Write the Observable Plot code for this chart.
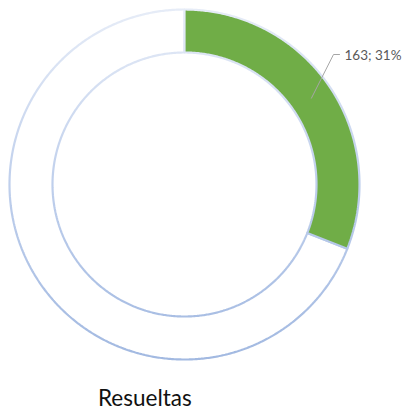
<!DOCTYPE html>
<html>
<head>
<meta charset="utf-8">
<script src="https://cdn.jsdelivr.net/npm/d3@7"></script>
<script src="https://cdn.jsdelivr.net/npm/@observablehq/plot@0.6"></script>
<style>
  html, body { margin: 0; padding: 0; background: #fff; }
  #wrap { position: relative; width: 406px; height: 414px; overflow: hidden; }
  #title { position: absolute; left: 98px; top: 387px; font-family: Lato, "Open Sans", sans-serif; font-size: 22.5px; line-height: 1; color: #111; white-space: nowrap; }
</style>
</head>
<body>
<div id="wrap"><div id="chart"></div><div id="title"></div></div>
<script>
// Data
const categories = ["Resueltas", "Resto"];
const values = [163, 363];
const sliceColors = ["#70AD47", "#FFFFFF"];
const labels = ["163; 31%", ""];
const chartTitle = "Resueltas";

// Geometry (layout)
const innerRatio = 132 / 175;
const W = 406, H = 370;

const pie = d3.pie().sort(null).value(d => d)(values);

// Build slice outlines in unit coordinates (angle clockwise from top)
const pts = (a, r) => ({ x: r * Math.sin(a), y: r * Math.cos(a) });
const outline = [];
pie.forEach((p, i) => {
  const n = Math.max(4, Math.ceil((p.endAngle - p.startAngle) / (Math.PI / 360)));
  const ring = [];
  for (let k = 0; k <= n; k++) ring.push(pts(p.startAngle + (p.endAngle - p.startAngle) * k / n, 1));
  for (let k = n; k >= 0; k--) ring.push(pts(p.startAngle + (p.endAngle - p.startAngle) * k / n, innerRatio));
  ring.push(ring[0]);
  ring.forEach(q => outline.push({ ...q, cat: categories[i], order: i }));
});
const drawOrder = [1, 0];

// Label leader for the first slice
const p0 = pie[0];
const mid = (p0.startAngle + p0.endAngle) / 2;
const midR = (1 + innerRatio) / 2;
const start = pts(mid, midR);
const elbow = { x: 149 / 175, y: 130 / 175 };
const end = { x: elbow.x + 6 / 175, y: elbow.y };
const leader = [start, elbow, end];

const marks = drawOrder.map(i => Plot.line(outline.filter(d => d.order === i), {
  x: "x", y: "y", fill: sliceColors[i], stroke: "url(#ringGrad)", strokeWidth: 2.2, strokeLinejoin: "miter", curve: "linear"
}));
marks.push(Plot.line(leader, { x: "x", y: "y", stroke: "#A6A6A6", strokeWidth: 1 }));
marks.push(Plot.text([{ x: end.x, y: end.y, t: labels[0] }], {
  x: "x", y: "y", text: "t", textAnchor: "start", dx: 5, dy: 1, fill: "#595959",
  fontSize: 13.5, fontFamily: "Lato, 'Open Sans', sans-serif"
}));

const plot = Plot.plot({
  width: W, height: H,
  marginLeft: 9, marginRight: 47, marginTop: 9, marginBottom: 11,
  x: { domain: [-1, 1], axis: null },
  y: { domain: [-1, 1], axis: null },
  style: { background: "transparent", overflow: "visible" },
  marks
});

// gradient for slice borders (lighter at top, darker at bottom)
const ns = "http://www.w3.org/2000/svg";
const defs = document.createElementNS(ns, "defs");
defs.innerHTML = `<linearGradient id="ringGrad" gradientUnits="userSpaceOnUse" x1="0" y1="9" x2="0" y2="359">
  <stop offset="0" stop-color="#E6ECF7"/>
  <stop offset="0.5" stop-color="#BFCFEC"/>
  <stop offset="1" stop-color="#A2B9E1"/>
</linearGradient>`;
plot.insertBefore(defs, plot.firstChild);

document.getElementById("chart").appendChild(plot);
document.getElementById("title").textContent = chartTitle;
</script>
</body>
</html>
